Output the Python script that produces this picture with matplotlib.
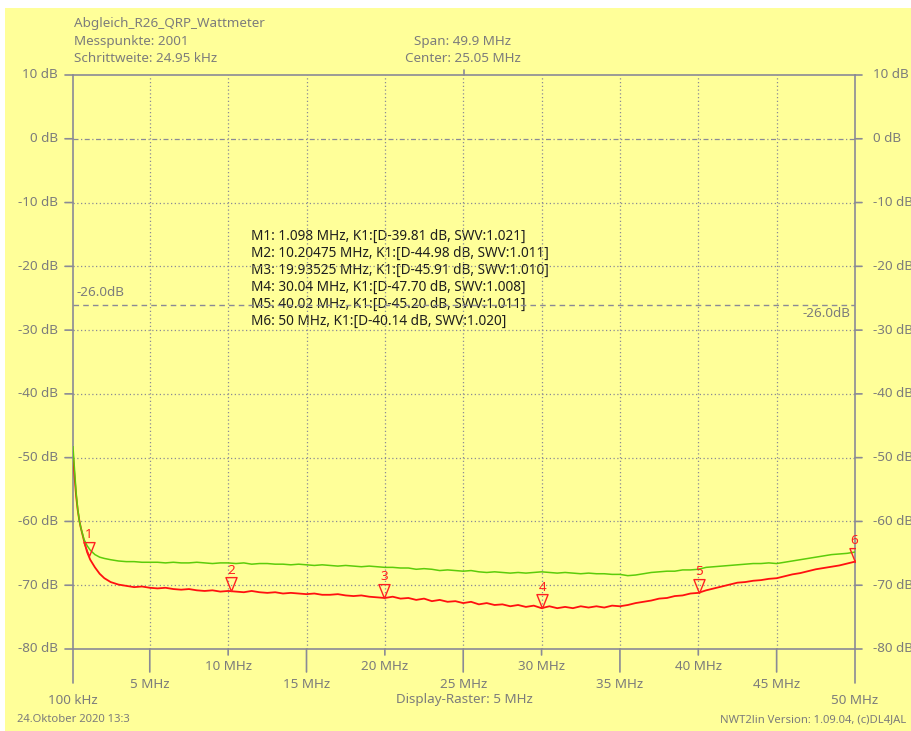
import numpy as np
import matplotlib
matplotlib.use("Agg")
import matplotlib.pyplot as plt
from matplotlib.path import Path
from matplotlib.patches import Rectangle
import matplotlib.transforms as mtransforms

# ---------------- data ----------------
freq_mhz = [0.1, 0.2, 0.3, 0.4, 0.5, 0.6, 0.8, 1.0, 1.2, 1.5, 1.8, 2.1, 2.5, 3.0, 3.5, 4.0,
            4.5, 5.0, 5.5, 6.0, 6.5, 7.0, 7.5, 8.0, 8.5, 9.0, 9.5, 10.0, 10.5, 11.0, 11.5, 12.0,
            12.5, 13.0, 13.5, 14.0, 14.5, 15.0, 15.5, 16.0, 16.5, 17.0, 17.5, 18.0, 18.5, 19.0,
            19.5, 20.0, 20.5, 21.0, 21.5, 22.0, 22.5, 23.0, 23.5, 24.0, 24.5, 25.0, 25.5, 26.0,
            26.5, 27.0, 27.5, 28.0, 28.5, 29.0, 29.5, 30.0, 30.5, 31.0, 31.5, 32.0, 32.5, 33.0,
            33.5, 34.0, 34.5, 35.0, 35.5, 36.0, 36.5, 37.0, 37.5, 38.0, 38.5, 39.0, 39.5, 40.0,
            40.5, 41.0, 41.5, 42.0, 42.5, 43.0, 43.5, 44.0, 44.5, 45.0, 45.5, 46.0, 46.5, 47.0,
            47.5, 48.0, 48.5, 49.0, 49.5, 50.0]

red_db = [-49.5, -53.0, -56.0, -58.2, -59.8, -61.0, -63.0, -64.8, -66.0, -67.2, -68.2, -68.9,
          -69.5, -69.9, -70.1, -70.3, -70.2, -70.4, -70.5, -70.4, -70.6, -70.7, -70.6, -70.8,
          -70.9, -70.8, -71.0, -70.9, -71.0, -71.1, -70.9, -71.1, -71.2, -71.1, -71.3, -71.2,
          -71.3, -71.4, -71.3, -71.5, -71.5, -71.4, -71.6, -71.7, -71.6, -71.8, -71.9, -72.0,
          -71.8, -72.1, -72.0, -72.3, -72.1, -72.5, -72.3, -72.6, -72.5, -72.8, -72.6, -73.0,
          -72.8, -73.1, -73.0, -73.3, -73.1, -73.4, -73.2, -73.6, -73.3, -73.6, -73.4, -73.6,
          -73.3, -73.5, -73.3, -73.5, -73.2, -73.3, -73.1, -72.8, -72.6, -72.4, -72.1, -72.0,
          -71.7, -71.6, -71.3, -71.2, -70.8, -70.5, -70.2, -69.9, -69.6, -69.5, -69.3, -69.2,
          -69.0, -68.9, -68.6, -68.3, -68.1, -67.8, -67.5, -67.3, -67.1, -66.9, -66.6, -66.3]

green_db = [-48.3, -52.0, -55.5, -58.0, -59.8, -61.0, -62.8, -63.8, -64.5, -65.2, -65.6, -65.8,
            -66.0, -66.2, -66.3, -66.3, -66.4, -66.4, -66.4, -66.5, -66.4, -66.5, -66.5, -66.4,
            -66.5, -66.6, -66.5, -66.5, -66.6, -66.5, -66.7, -66.6, -66.6, -66.7, -66.7, -66.8,
            -66.7, -66.8, -66.9, -66.8, -66.9, -67.0, -66.9, -67.0, -67.1, -67.0, -67.1, -67.2,
            -67.2, -67.3, -67.3, -67.5, -67.4, -67.5, -67.7, -67.6, -67.7, -67.8, -67.7, -67.9,
            -68.0, -67.9, -68.0, -68.1, -68.0, -68.1, -68.0, -67.9, -68.0, -68.1, -68.0, -68.1,
            -68.2, -68.1, -68.2, -68.2, -68.3, -68.3, -68.5, -68.4, -68.2, -68.0, -67.9, -67.8,
            -67.8, -67.6, -67.6, -67.5, -67.2, -67.1, -67.0, -66.9, -66.8, -66.7, -66.6, -66.6,
            -66.5, -66.6, -66.4, -66.2, -66.0, -65.8, -65.6, -65.4, -65.2, -65.1, -65.0, -64.8]

marker_freqs = [1.098, 10.20475, 19.93525, 30.04, 40.02, 50.0]
marker_names = ["1", "2", "3", "4", "5", "6"]
marker_texts = [
    "M1: 1.098 MHz, K1:[D-39.81 dB, SWV:1.021]",
    "M2: 10.20475 MHz, K1:[D-44.98 dB, SWV:1.011]",
    "M3: 19.93525 MHz, K1:[D-45.91 dB, SWV:1.010]",
    "M4: 30.04 MHz, K1:[D-47.70 dB, SWV:1.008]",
    "M5: 40.02 MHz, K1:[D-45.20 dB, SWV:1.011]",
    "M6: 50 MHz, K1:[D-40.14 dB, SWV:1.020]",
]
y_ticks = [10, 0, -10, -20, -30, -40, -50, -60, -70, -80]
y_labels = [f"{v} dB" for v in y_ticks]
x_ticks = [5, 10, 15, 20, 25, 30, 35, 40, 45]
x_labels = [f"{v} MHz" for v in x_ticks]
limit_db = -26.0
f_start, f_stop = 0.1, 50.0
center = 25.05

header_left = ["Abgleich_R26_QRP_Wattmeter", "Messpunkte: 2001", "Schrittweite: 24.95 kHz"]
header_mid = ["Span: 49.9 MHz", "Center: 25.05 MHz"]

# ---------------- style ----------------
plt.rcParams['font.family'] = ['Noto Sans', 'DejaVu Sans']
YEL = '#ffff99'
GRID = '#8a8a96'
TXT = '#7c7c7c'
FS = 9.7

W, H = 912, 731
fig = plt.figure(figsize=(W / 100, H / 100), dpi=100, facecolor='white')
bg = Rectangle((5 / W, 0), 1 - 5 / W, 1 - 8 / H, transform=fig.transFigure,
               facecolor=YEL, edgecolor='none', zorder=-10)
fig.patches.append(bg)

L, R, T, B = 73, 855, 75, 649
ax = fig.add_axes([L / W, 1 - B / H, (R - L) / W, (B - T) / H])
ax.set_zorder(5)
ax.set_facecolor('none')
ax.patch.set_visible(False)
ax.set_xlim(f_start, f_stop)
ax.set_ylim(-80, 10)
for s in ax.spines.values():
    s.set_visible(False)
ax.set_xticks([])
ax.set_yticks([])

bx = mtransforms.blended_transform_factory(ax.transData, ax.transAxes)
by = mtransforms.blended_transform_factory(ax.transAxes, ax.transData)

def seg(xy, xycoords, dxy):
    ax.annotate("", xy=xy, xycoords=xycoords, xytext=dxy, textcoords='offset pixels',
                arrowprops=dict(arrowstyle='-', color=GRID, lw=1.2, shrinkA=0, shrinkB=0),
                annotation_clip=False)

# vertical grid (dotted)
for xv in x_ticks:
    ax.plot([xv, xv], [-80, 10], color=GRID, lw=0.9, ls=(0, (1, 2)), zorder=1)
# horizontal grid
for yv, lab in zip(y_ticks, y_labels):
    if yv in (10, -80):
        ax.plot([0, 1], [yv, yv], transform=by, color=GRID, lw=1.2, zorder=2, clip_on=False)
    elif yv == 0:
        ax.plot([0, 1], [yv, yv], transform=by, color=GRID, lw=0.9, ls=(0, (4, 2, 1, 2)), zorder=1)
    else:
        ax.plot([0, 1], [yv, yv], transform=by, color=GRID, lw=0.9, ls=(0, (1, 2)), zorder=1)
    seg((0, yv), by, (-8, 0))
    seg((1, yv), by, (7, 0))
    ax.annotate(lab, xy=(0, yv), xycoords=by, xytext=(-15, 0), textcoords='offset pixels',
                ha='right', va='center', fontsize=FS, color=TXT, annotation_clip=False)
    ax.annotate(lab, xy=(1, yv), xycoords=by, xytext=(18, 0), textcoords='offset pixels',
                ha='left', va='center', fontsize=FS, color=TXT, annotation_clip=False)

# left/right frame lines extended below
for xv in (f_start, f_stop):
    ax.plot([xv, xv], [0, 1], transform=bx, color=GRID, lw=1.2, zorder=2, clip_on=False)
    seg((xv, 0), bx, (0, -34))
# bottom ticks & labels
for xv, lab in zip(x_ticks, x_labels):
    even = (xv % 10 == 0)
    seg((xv, 0), bx, (0, -(6 if even else 23)))
    ax.annotate(lab, xy=(xv, 0), xycoords=bx, xytext=(0, -18 if even else -36),
                textcoords='offset pixels', ha='center', va='center', fontsize=FS, color=TXT,
                annotation_clip=False)
for xv, lab in ((f_start, "100 kHz"), (f_stop, "50 MHz"), (center, "Display-Raster: 5 MHz")):
    ax.annotate(lab, xy=(xv, 0), xycoords=bx, xytext=(0, -51), textcoords='offset pixels',
                ha='center', va='center', fontsize=FS, color=TXT, annotation_clip=False)
# center tick on top
seg((center, 1), bx, (0, 5))

# header
for i, t in enumerate(header_left):
    fig.text(74 / W, 1 - (24 + 17 * i) / H, t, ha='left', va='center', fontsize=FS, color=TXT)
for i, t in enumerate(header_mid):
    fig.text(463 / W, 1 - (42 + 16 * i) / H, t, ha='center', va='center', fontsize=FS, color=TXT)
fig.text(17 / W, 1 - 720 / H, "24.Oktober 2020 13:3", ha='left', va='center', fontsize=8.1, color=TXT)
fig.text(906 / W, 1 - 720 / H, "NWT2lin Version: 1.09.04, (c)DL4JAL", ha='right', va='center',
         fontsize=8.1, color=TXT)

# limit line
ax.plot([0, 1], [limit_db, limit_db], transform=by, color=GRID, lw=1.0, ls=(0, (4, 3)), zorder=2)
ax.annotate(f"{limit_db:.1f}dB", xy=(0, limit_db), xycoords=by, xytext=(4, 12),
            textcoords='offset pixels', ha='left', va='center', fontsize=FS, color=TXT)
ax.annotate(f"{limit_db:.1f}dB", xy=(1, limit_db), xycoords=by, xytext=(-4, -9),
            textcoords='offset pixels', ha='right', va='center', fontsize=FS, color=TXT)

# traces
ax.plot(freq_mhz, red_db, color='#ff1010', lw=1.3, zorder=4)
ax.plot(freq_mhz, green_db, color='#5ccc0a', lw=1.1, zorder=5)

# markers
tri = Path([(0, 0), (-0.4, 1.0), (0.4, 1.0), (0, 0)],
           [Path.MOVETO, Path.LINETO, Path.LINETO, Path.CLOSEPOLY])
m_y = np.interp(marker_freqs, freq_mhz, red_db)
ax.plot(marker_freqs, m_y, ls='none', marker=tri, markersize=20, markerfacecolor='none',
        markeredgecolor='#ff2020', markeredgewidth=1.0, zorder=6, clip_on=True)
for f, yv, n in zip(marker_freqs, m_y, marker_names):
    ax.annotate(n, xy=(f, yv), xytext=(-1 if f == f_stop else 0, 21), textcoords='offset pixels',
                ha='center', va='center', fontsize=FS, color='#ff2020', zorder=6,
                annotation_clip=False)

# marker text block
for i, t in enumerate(marker_texts):
    fig.text(251 / W, 1 - (236 + 17 * i) / H, t, ha='left', va='center', fontsize=9.8,
             color='#1e1e1e')

fig.savefig("out.png", dpi=100, facecolor=fig.get_facecolor())
